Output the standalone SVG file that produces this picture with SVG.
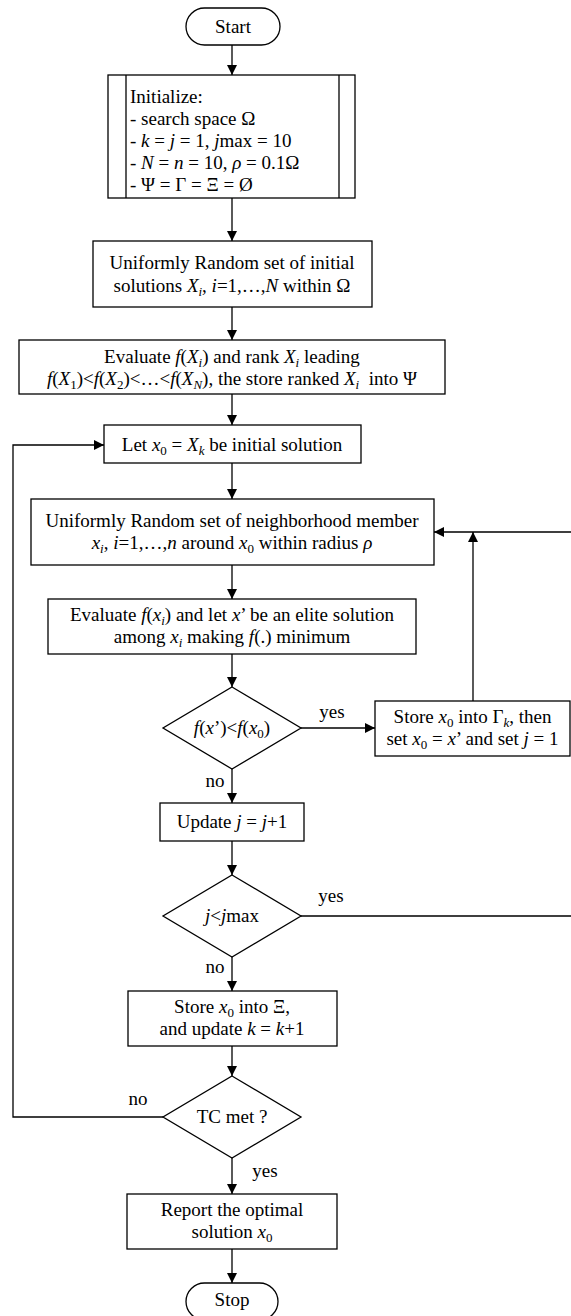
<svg xmlns="http://www.w3.org/2000/svg" width="571" height="1316" viewBox="0 0 571 1316">
<style>
  text { font-family: "Liberation Serif", "Times New Roman", serif; font-size: 19px; fill: #000; }
  .c { text-anchor: middle; }
  .i { font-style: italic; }
  .box { fill: #fff; stroke: #000; stroke-width: 1.3; }
  .ln { fill: none; stroke: #000; stroke-width: 1.3; }
</style>
<defs>
  <marker id="ah" markerWidth="10" markerHeight="10" refX="10" refY="5" orient="auto" markerUnits="userSpaceOnUse">
    <path d="M0,0 L10,5 L0,10 z" fill="#000"/>
  </marker>
</defs>

<g id="connectors">
  <line class="ln" x1="232" y1="45" x2="232" y2="75" marker-end="url(#ah)"/>
  <line class="ln" x1="232" y1="198" x2="232" y2="241" marker-end="url(#ah)"/>
  <line class="ln" x1="232" y1="307" x2="232" y2="340" marker-end="url(#ah)"/>
  <line class="ln" x1="232" y1="394" x2="232" y2="425" marker-end="url(#ah)"/>
  <line class="ln" x1="232" y1="463" x2="232" y2="499" marker-end="url(#ah)"/>
  <line class="ln" x1="232" y1="565" x2="232" y2="599" marker-end="url(#ah)"/>
  <line class="ln" x1="232" y1="654" x2="232" y2="687" marker-end="url(#ah)"/>
  <line class="ln" x1="232" y1="769" x2="232" y2="803" marker-end="url(#ah)"/>
  <line class="ln" x1="232" y1="841" x2="232" y2="875" marker-end="url(#ah)"/>
  <line class="ln" x1="232" y1="957" x2="232" y2="991" marker-end="url(#ah)"/>
  <line class="ln" x1="232" y1="1046" x2="232" y2="1076" marker-end="url(#ah)"/>
  <line class="ln" x1="232" y1="1158" x2="232" y2="1194" marker-end="url(#ah)"/>
  <line class="ln" x1="232" y1="1249" x2="232" y2="1283" marker-end="url(#ah)"/>
  <line class="ln" x1="301" y1="728" x2="375" y2="728" marker-end="url(#ah)"/>
  <line class="ln" x1="473" y1="701" x2="473" y2="532" marker-end="url(#ah)"/>
  <polyline class="ln" points="301,916 576,916 576,532 434,532" marker-end="url(#ah)"/>
  <polyline class="ln" points="163,1117 13,1117 13,445 104,445" marker-end="url(#ah)"/>
  <text class="c" x="332" y="718">yes</text>
  <text class="c" x="215" y="787">no</text>
  <text class="c" x="331" y="902">yes</text>
  <text class="c" x="215" y="973">no</text>
  <text class="c" x="138" y="1105">no</text>
  <text class="c" x="265" y="1177">yes</text>
</g>

<g id="start">
  <rect class="box" x="186" y="8" width="94" height="37" rx="18.5"/>
  <text class="c" x="233" y="33">Start</text>
</g>

<g id="init">
  <rect class="box" x="108" y="75" width="247" height="123"/>
  <line class="ln" x1="126" y1="75" x2="126" y2="198"/>
  <line class="ln" x1="339" y1="75" x2="339" y2="198"/>
  <text x="130" y="103">Initialize:</text>
  <text x="130" y="125">- search space Ω</text>
  <text x="130" y="147">- <tspan class="i">k</tspan> = <tspan class="i">j</tspan> = 1, <tspan class="i">j</tspan>max = 10</text>
  <text x="130" y="169">- <tspan class="i">N</tspan> = <tspan class="i">n</tspan> = 10, <tspan class="i">ρ</tspan> = 0.1Ω</text>
  <text x="130" y="191">- Ψ = Γ = Ξ = Ø</text>
</g>

<g id="uniform-init">
  <rect class="box" x="93" y="241" width="279" height="66"/>
  <text class="c" x="232" y="269">Uniformly Random set of initial</text>
  <text class="c" x="232" y="292">solutions <tspan class="i">X</tspan><tspan class="i" font-size="13" dy="4">i</tspan><tspan dy="-4">, </tspan><tspan class="i">i</tspan>=1,…,<tspan class="i">N</tspan> within Ω</text>
</g>

<g id="evaluate-rank">
  <rect class="box" x="19" y="340" width="426" height="54"/>
  <text class="c" x="232" y="363">Evaluate <tspan class="i">f</tspan>(<tspan class="i">X</tspan><tspan class="i" font-size="13" dy="4">i</tspan><tspan dy="-4">) and rank </tspan><tspan class="i">X</tspan><tspan class="i" font-size="13" dy="4">i</tspan><tspan dy="-4"> leading</tspan></text>
  <text class="c" x="232" y="385"><tspan class="i">f</tspan>(<tspan class="i">X</tspan><tspan font-size="13" dy="4">1</tspan><tspan dy="-4">)&lt;</tspan><tspan class="i">f</tspan>(<tspan class="i">X</tspan><tspan font-size="13" dy="4">2</tspan><tspan dy="-4">)&lt;…&lt;</tspan><tspan class="i">f</tspan>(<tspan class="i">X</tspan><tspan class="i" font-size="13" dy="4">N</tspan><tspan dy="-4">), the store ranked </tspan><tspan class="i">X</tspan><tspan class="i" font-size="13" dy="4">i</tspan><tspan dy="-4">&#160; into Ψ</tspan></text>
</g>

<g id="let-x0">
  <rect class="box" x="104" y="425" width="257" height="38"/>
  <text class="c" x="232" y="451">Let <tspan class="i">x</tspan><tspan font-size="13" dy="4">0</tspan><tspan dy="-4"> = </tspan><tspan class="i">X</tspan><tspan class="i" font-size="13" dy="4">k</tspan><tspan dy="-4"> be initial solution</tspan></text>
</g>

<g id="uniform-neigh">
  <rect class="box" x="31" y="499" width="403" height="66"/>
  <text class="c" x="232" y="527">Uniformly Random set of neighborhood member</text>
  <text class="c" x="232" y="549"><tspan class="i">x</tspan><tspan class="i" font-size="13" dy="4">i</tspan><tspan dy="-4">, </tspan><tspan class="i">i</tspan>=1,…,<tspan class="i">n</tspan> around <tspan class="i">x</tspan><tspan font-size="13" dy="4">0</tspan><tspan dy="-4"> within radius </tspan><tspan class="i">ρ</tspan></text>
</g>

<g id="evaluate-elite">
  <rect class="box" x="48" y="599" width="368" height="55"/>
  <text class="c" x="232" y="621">Evaluate <tspan class="i">f</tspan>(<tspan class="i">x</tspan><tspan class="i" font-size="13" dy="4">i</tspan><tspan dy="-4">) and let </tspan><tspan class="i">x</tspan>’ be an elite solution</text>
  <text class="c" x="232" y="643">among <tspan class="i">x</tspan><tspan class="i" font-size="13" dy="4">i</tspan><tspan dy="-4"> making </tspan><tspan class="i">f</tspan>(.) minimum</text>
</g>

<g id="decision-improve">
  <polygon class="box" points="232,687 301,728 232,769 163,728"/>
  <text class="c" x="232" y="734"><tspan class="i">f</tspan>(<tspan class="i">x</tspan>’)&lt;<tspan class="i">f</tspan>(<tspan class="i">x</tspan><tspan font-size="13" dy="4">0</tspan><tspan dy="-4">)</tspan></text>
</g>

<g id="store-gamma">
  <rect class="box" x="375" y="701" width="195" height="55"/>
  <text class="c" x="472.5" y="723">Store <tspan class="i">x</tspan><tspan font-size="13" dy="4">0</tspan><tspan dy="-4"> into Γ</tspan><tspan class="i" font-size="13" dy="4">k</tspan><tspan dy="-4">, then</tspan></text>
  <text class="c" x="472.5" y="745">set <tspan class="i">x</tspan><tspan font-size="13" dy="4">0</tspan><tspan dy="-4"> = </tspan><tspan class="i">x</tspan>’ and set <tspan class="i">j</tspan> = 1</text>
</g>

<g id="update-j">
  <rect class="box" x="160" y="803" width="144" height="38"/>
  <text class="c" x="232" y="828">Update <tspan class="i">j</tspan> = <tspan class="i">j</tspan>+1</text>
</g>

<g id="decision-jmax">
  <polygon class="box" points="232,875 301,916 232,957 163,916"/>
  <text class="c" x="232" y="922"><tspan class="i">j</tspan>&lt;<tspan class="i">j</tspan>max</text>
</g>

<g id="store-xi">
  <rect class="box" x="128" y="991" width="209" height="55"/>
  <text class="c" x="232" y="1013">Store <tspan class="i">x</tspan><tspan font-size="13" dy="4">0</tspan><tspan dy="-4"> into Ξ,</tspan></text>
  <text class="c" x="232" y="1035">and update <tspan class="i">k</tspan> = <tspan class="i">k</tspan>+1</text>
</g>

<g id="decision-tc">
  <polygon class="box" points="232,1076 301,1117 232,1158 163,1117"/>
  <text class="c" x="232" y="1123">TC met ?</text>
</g>

<g id="report">
  <rect class="box" x="127" y="1194" width="210" height="55"/>
  <text class="c" x="232" y="1216">Report the optimal</text>
  <text class="c" x="232" y="1238">solution <tspan class="i">x</tspan><tspan font-size="13" dy="4">0</tspan></text>
</g>

<g id="stop">
  <rect class="box" x="186" y="1283" width="92" height="37" rx="18.5"/>
  <text class="c" x="232" y="1306">Stop</text>
</g>
</svg>
